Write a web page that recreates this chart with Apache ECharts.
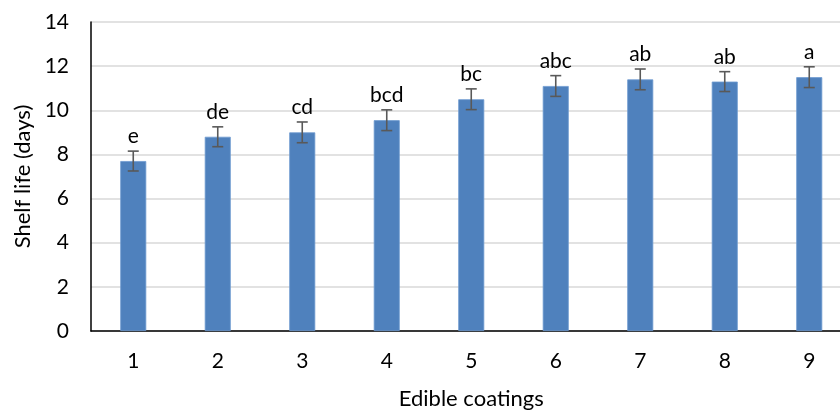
<!DOCTYPE html>
<html>
<head>
<meta charset="utf-8">
<script src="https://cdn.jsdelivr.net/npm/echarts@6/dist/echarts.min.js"></script>
<style>
html,body{margin:0;padding:0;background:#fff;}
#chart{width:840px;height:410px;}
</style>
</head>
<body>
<div id="chart"></div>
<script>
var categories = ['1', '2', '3', '4', '5', '6', '7', '8', '9'];
var shelfLife = [7.7, 8.8, 9.0, 9.55, 10.5, 11.1, 11.4, 11.3, 11.5];
var errors = [0.45, 0.45, 0.47, 0.47, 0.47, 0.47, 0.47, 0.45, 0.47];
var letters = ['e', 'de', 'cd', 'bcd', 'bc', 'abc', 'ab', 'ab', 'a'];
var yTicks = { min: 0, max: 14, interval: 2 };

var FONT = 'Lato';
var FS = 21;
var chart = echarts.init(document.getElementById('chart'), null, { renderer: 'canvas' });

var errData = categories.map(function (c, i) {
  return [i, shelfLife[i], errors[i]];
});

chart.setOption({
  animation: false,
  backgroundColor: '#ffffff',
  grid: { left: 91, right: -11.5, top: 22, bottom: 79, containLabel: false, outerBoundsMode: 'none' },
  xAxis: {
    type: 'category',
    data: categories,
    name: 'Edible coatings',
    nameLocation: 'middle',
    nameGap: 57,
    nameTextStyle: { fontFamily: FONT, fontSize: 22, color: '#000' },
    axisLine: { lineStyle: { color: '#000', width: 1.5 } },
    axisTick: { show: false },
    axisLabel: { fontFamily: FONT, fontSize: FS, color: '#000', margin: 20 },
    splitLine: { show: false }
  },
  yAxis: {
    type: 'value',
    min: yTicks.min,
    max: yTicks.max,
    interval: yTicks.interval,
    name: 'Shelf life (days)',
    nameLocation: 'middle',
    nameRotate: 90,
    nameGap: 57,
    nameTextStyle: { fontFamily: FONT, fontSize: 22, color: '#000' },
    axisLine: { show: true, lineStyle: { color: '#000', width: 1.5 } },
    axisTick: { show: false },
    axisLabel: { fontFamily: FONT, fontSize: FS, color: '#000', margin: 22 },
    splitLine: { lineStyle: { color: '#d9d9d9', width: 1.5 } }
  },
  series: [
    {
      type: 'bar',
      data: shelfLife,
      barWidth: 26,
      itemStyle: { color: '#4f81bd', borderColor: '#6f9bd0', borderWidth: 0.8 },
      z: 2
    },
    {
      type: 'custom',
      data: errData,
      z: 5,
      renderItem: function (params, api) {
        var idx = api.value(0);
        var v = api.value(1);
        var e = api.value(2);
        var top = api.coord([idx, v + e]);
        var bot = api.coord([idx, v - e]);
        var hw = 5.5;
        var style = { stroke: '#595959', lineWidth: 1.6 };
        return {
          type: 'group',
          children: [
            { type: 'line', shape: { x1: top[0], y1: top[1], x2: bot[0], y2: bot[1] }, style: style },
            { type: 'line', shape: { x1: top[0] - hw, y1: top[1], x2: top[0] + hw, y2: top[1] }, style: style },
            { type: 'line', shape: { x1: bot[0] - hw, y1: bot[1], x2: bot[0] + hw, y2: bot[1] }, style: style },
            {
              type: 'text',
              x: top[0],
              y: top[1] - 4,
              style: {
                text: letters[params.dataIndex],
                fontFamily: FONT,
                fontSize: FS,
                fill: '#000',
                align: 'center',
                verticalAlign: 'bottom'
              }
            }
          ]
        };
      }
    }
  ]
});
</script>
</body>
</html>
